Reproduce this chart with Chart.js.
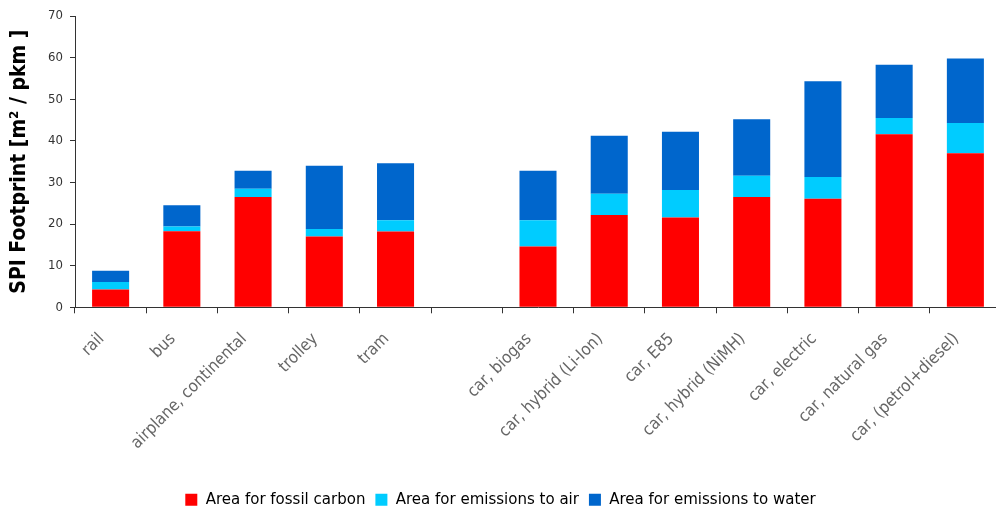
<!DOCTYPE html>
<html>
<head>
<meta charset="utf-8">
<script src="https://cdn.jsdelivr.net/npm/chart.js@4.4.1/dist/chart.umd.min.js"></script>
<style>
  html, body { margin: 0; padding: 0; background: #fff; overflow: hidden; }
  #wrap { width: 1002px; height: 512px; }
</style>
</head>
<body>
<div id="wrap"><canvas id="c" width="1002" height="512"></canvas></div>
<script>
// Transport modes (empty slot separates public transport from cars)
const categories = [
  'rail', 'bus', 'airplane, continental', 'trolley', 'tram', '',
  'car, biogas', 'car, hybrid (Li-Ion)', 'car, E85', 'car, hybrid (NiMH)',
  'car, electric', 'car, natural gas', 'car, (petrol+diesel)'
];

// SPI footprint components, m² per passenger-km
const fossilCarbon = [4.3, 18.3, 26.5, 17.0, 18.2, null, 14.6, 22.2, 21.6, 26.5, 26.1, 41.6, 37.0];
const emissionsAir = [1.8, 1.1, 2.0, 1.8, 2.7, null, 6.3, 5.1, 6.6, 5.1, 5.2, 3.9, 7.3];
const emissionsWater = [2.7, 5.1, 4.3, 15.2, 13.7, null, 11.9, 13.9, 14.0, 13.6, 23.0, 12.8, 15.5];

const yTicks = [0, 10, 20, 30, 40, 50, 60, 70];

const seriesNames = ['Area for fossil carbon', 'Area for emissions to air', 'Area for emissions to water'];
const seriesColors = ['#ff0000', '#00ccff', '#0066cc'];

const font = "'DejaVu Sans Condensed', 'DejaVu Sans', sans-serif";

// nudge the legend row a little lower than the default bottom placement
const legendNudge = {
  id: 'legendNudge',
  afterLayout(chart) {
    const lg = chart.legend;
    if (lg) { lg.top += 6; lg.bottom += 6; }
  }
};

new Chart(document.getElementById('c'), {
  type: 'bar',
  data: {
    labels: categories,
    datasets: [fossilCarbon, emissionsAir, emissionsWater].map((d, i) => ({
      label: seriesNames[i],
      data: d,
      backgroundColor: seriesColors[i],
      borderWidth: 0,
      barPercentage: 0.52,
      categoryPercentage: 1.0
    }))
  },
  plugins: [legendNudge],
  options: {
    responsive: false,
    animation: false,
    layout: { padding: { top: 16, right: 1, left: 0, bottom: 0 } },
    plugins: {
      tooltip: { enabled: false },
      legend: {
        position: 'bottom',
        labels: {
          boxWidth: 12,
          boxHeight: 12,
          padding: 10,
          color: '#000',
          font: { family: font, size: 16.7 }
        }
      }
    },
    scales: {
      x: {
        stacked: true,
        grid: { display: true, offset: true, drawOnChartArea: false, drawTicks: true, tickLength: 6, color: '#333' },
        border: { color: '#333', width: 1 },
        ticks: {
          maxRotation: 45, minRotation: 45, autoSkip: false,
          color: '#666', padding: 16, labelOffset: -9,
          font: { family: font, size: 16.7 }
        },
        afterFit: s => { s.height = 168; }
      },
      y: {
        stacked: true,
        min: 0, max: 70,
        afterBuildTicks: s => { s.ticks = yTicks.map(v => ({ value: v })); },
        grid: { display: true, drawOnChartArea: false, drawTicks: true, tickLength: 5, color: '#333' },
        border: { color: '#333', width: 1 },
        ticks: { color: '#333', padding: 7, font: { family: font, size: 13 } },
        title: {
          display: true,
          text: 'SPI Footprint [m² / pkm ]',
          color: '#000',
          font: { family: font, size: 21, weight: 'bold' },
          padding: { top: 7, bottom: 0 }
        },
        afterFit: s => { s.width = 75; }
      }
    }
  }
});
</script>
</body>
</html>
